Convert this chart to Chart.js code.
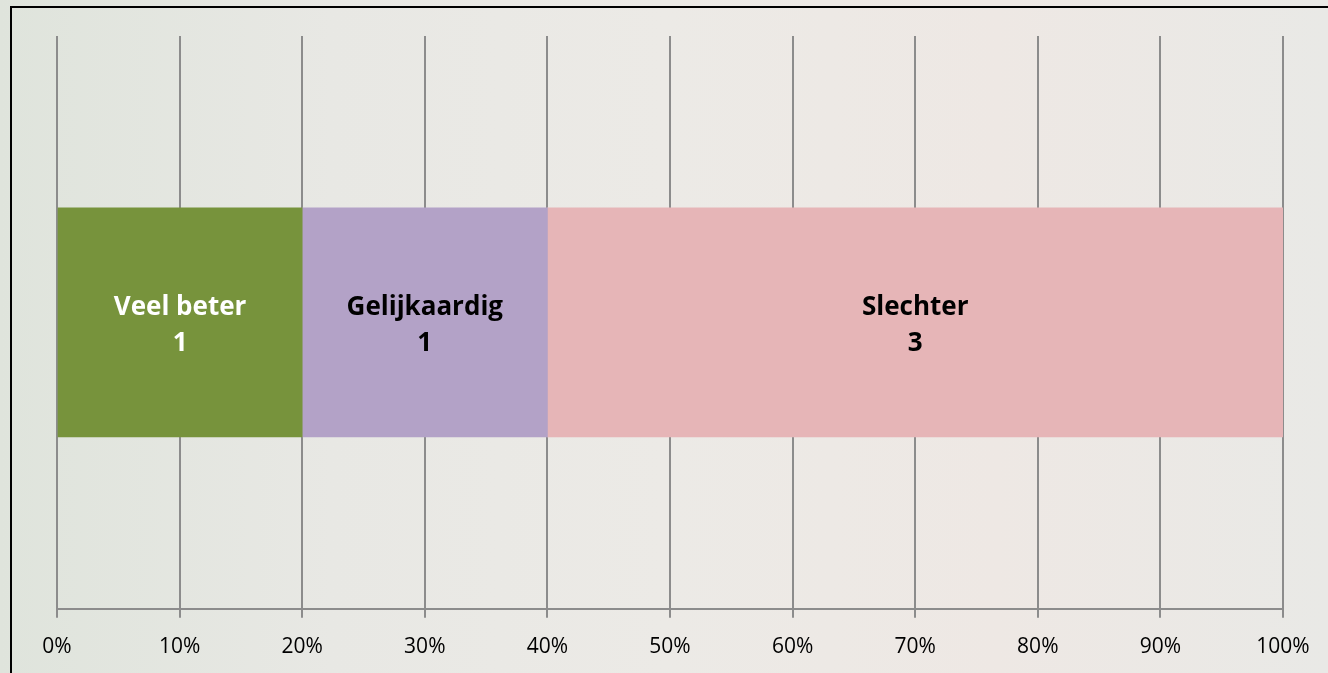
<!DOCTYPE html>
<html>
<head>
<meta charset="utf-8">
<script src="https://cdn.jsdelivr.net/npm/chart.js@4"></script>
<style>
  html, body { margin: 0; padding: 0; }
  body {
    width: 1328px; height: 673px; overflow: hidden; position: relative;
    background: linear-gradient(90deg, #dfe4dc 0%, #e8e8e4 25%, #eceae6 50%, #eee8e4 75%, #e9e9e6 100%);
  }
  .frame {
    position: absolute; left: 10px; top: 6px; right: -4px; bottom: -4px;
    border-left: 2px solid #000; border-top: 2px solid #000;
  }
  .wrap { position: absolute; left: 0; top: 0; width: 1328px; height: 673px; }
</style>
</head>
<body>
<div class="frame"></div>
<div class="wrap"><canvas id="chart" width="1328" height="673"></canvas></div>
<script>
  // answer counts, shown as a 100% stacked bar
  const categories = ['Veel beter', 'Gelijkaardig', 'Slechter'];
  const counts = [1, 1, 3];
  const colors = ['#77933c', '#b3a2c7', '#e6b5b7'];
  const labelColors = ['#ffffff', '#000000', '#000000'];
  const tickValues = [0, 10, 20, 30, 40, 50, 60, 70, 80, 90, 100];

  const total = counts.reduce((a, b) => a + b, 0);

  const segmentLabels = {
    id: 'segmentLabels',
    afterDatasetsDraw(chart) {
      const ctx = chart.ctx;
      ctx.save();
      ctx.font = 'bold 26px "Open Sans", sans-serif';
      ctx.textAlign = 'center';
      ctx.textBaseline = 'middle';
      chart.data.datasets.forEach((ds, i) => {
        const bar = chart.getDatasetMeta(i).data[0];
        const x = (bar.base + bar.x) / 2;
        ctx.fillStyle = labelColors[i];
        ctx.fillText(ds.label, x, bar.y - 15);
        ctx.fillText(String(counts[i]), x, bar.y + 21);
      });
      ctx.restore();
    }
  };

  new Chart(
    document.getElementById('chart'),
    {
      type: 'bar',
      data: {
        labels: [''],
        datasets: categories.map((c, i) => ({
          label: c,
          data: [counts[i] / total * 100],
          backgroundColor: colors[i],
          borderWidth: 0,
          barThickness: 229
        }))
      },
      options: {
        indexAxis: 'y',
        responsive: false,
        animation: false,
        layout: {
          padding: { left: 57, right: 45, top: 36, bottom: -4 }
        },
        plugins: {
          legend: { display: false },
          tooltip: { enabled: false }
        },
        scales: {
          x: {
            stacked: true,
            min: 0,
            max: 100,
            afterBuildTicks: (axis) => {
              axis.ticks = tickValues.map(v => ({ value: v }));
            },
            grid: {
              color: '#8c8c8c',
              lineWidth: 2,
              tickLength: 9,
              drawTicks: true
            },
            border: { color: '#8c8c8c', width: 2 },
            ticks: {
              color: '#000',
              padding: 17,
              maxRotation: 0,
              font: { family: '"Open Sans", sans-serif', size: 21 },
              callback: (v) => v + '%'
            }
          },
          y: {
            stacked: true,
            display: false
          }
        }
      },
      plugins: [segmentLabels]
    }
  );
</script>
</body>
</html>
